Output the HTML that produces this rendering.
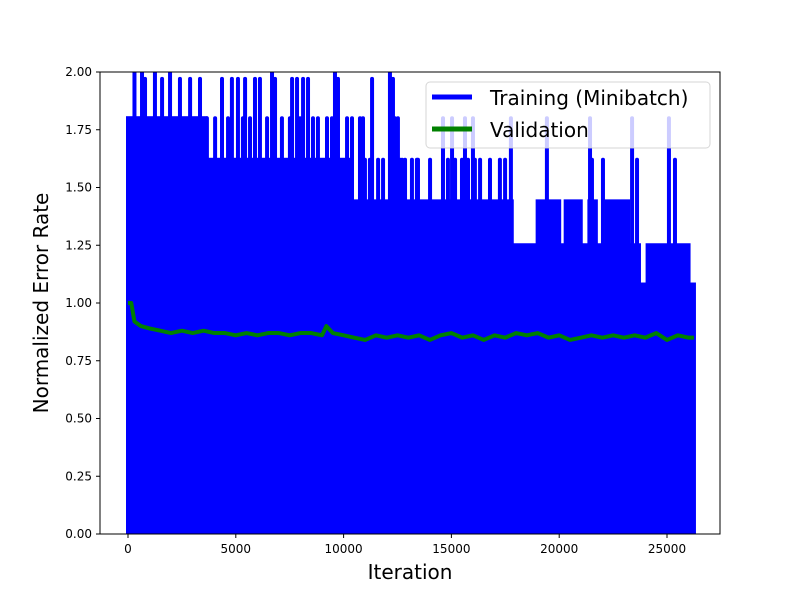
<!DOCTYPE html>
<html><head><meta charset="utf-8"><style>
body{margin:0;background:#fff;}
svg text{font-family:"DejaVu Sans","Liberation Sans",sans-serif;}
</style></head><body>
<svg id="chart" width="800" height="600" xmlns="http://www.w3.org/2000/svg">
<rect width="800" height="600" fill="#fff"/>
<defs><clipPath id="plotclip"><rect x="100" y="72" width="620" height="462"/></clipPath></defs>
<g id="train" clip-path="url(#plotclip)"></g>
<g id="valid" clip-path="url(#plotclip)"></g>
<g id="axes"></g>
<g>
<rect x="426" y="82" width="284" height="66" rx="4" fill="#fff" fill-opacity="0.8" stroke="#ccc" stroke-opacity="0.8"/>
<line x1="432" y1="97" x2="472" y2="97" stroke="#0000ff" stroke-width="5"/>
<text x="490" y="105" font-size="20" fill="#000">Training (Minibatch)</text>
<line x1="432" y1="129" x2="472" y2="129" stroke="#008000" stroke-width="5"/>
<text x="490" y="137" font-size="20" fill="#000">Validation</text>
</g>
<text x="410" y="579" font-size="20" text-anchor="middle">Iteration</text>
<text transform="translate(48,303) rotate(-90)" font-size="20" text-anchor="middle">Normalized Error Rate</text>
</svg>
<script>
// base level segments of training curve (start iteration, level)
const segStart=[0,3600,10300,17800,19000,20000,20300,21000,21400,21700,22200,23200,23700,24100,26000];
const segLevel=[1.8,1.62,1.44,1.25,1.44,1.25,1.44,1.25,1.44,1.25,1.44,1.25,1.08,1.25,1.08];
const lastIter=26250;
// spikes (iteration, peak value)
const spikeIter=[0,300,650,790,1250,1580,1950,2410,2880,3340,4360,4820,5100,5430,5890,6120,6680,6820,7610,7840,8120,8350,9600,9740,11320,12150,12290,
 3660,4040,4640,5330,5660,6450,7140,7510,7980,8580,8810,9230,9460,10160,10390,10760,10900,12380,12520,
 10990,11220,11600,11830,12620,12850,13170,13400,12710,13450,14010,14840,15170,15490,15770,16090,16330,16790,17250,17490,21520,22030,23610,25370,
 14610,15030,15630,16000,17760,19430,21430,23380,25090];
const spikeVal=[1.62,2.0,2.0,1.97,2.0,1.97,2.0,1.97,1.97,1.97,1.97,1.97,1.97,1.97,1.97,1.97,2.0,1.97,1.97,1.97,1.97,1.97,2.0,1.97,1.97,2.0,1.97,
 1.8,1.8,1.8,1.8,1.8,1.8,1.8,1.8,1.8,1.8,1.8,1.8,1.8,1.8,1.8,1.8,1.8,1.8,1.8,
 1.62,1.62,1.62,1.62,1.62,1.62,1.62,1.62,1.62,1.62,1.62,1.62,1.62,1.62,1.62,1.62,1.62,1.62,1.62,1.62,1.62,1.62,1.62,1.62,
 1.8,1.8,1.8,1.8,1.8,1.8,1.8,1.8,1.8];
// validation curve
const valIter=[0,150,300,600,1000,1500,2000,2500,3000,3500,4000,4500,5000,5500,6000,6500,7000,7500,8000,8500,9000,9200,9500,10000,10500,11000,11500,12000,12500,13000,13500,14000,14500,15000,15500,16000,16500,17000,17500,18000,18500,19000,19500,20000,20500,21000,21500,22000,22500,23000,23500,24000,24500,25000,25500,26000,26250];
const valVal=[1.0,1.0,0.92,0.9,0.89,0.88,0.87,0.88,0.87,0.88,0.87,0.87,0.86,0.87,0.86,0.87,0.87,0.86,0.87,0.87,0.86,0.9,0.87,0.86,0.85,0.84,0.86,0.85,0.86,0.85,0.86,0.84,0.86,0.87,0.85,0.86,0.84,0.86,0.85,0.87,0.86,0.87,0.85,0.86,0.84,0.85,0.86,0.85,0.86,0.85,0.86,0.85,0.87,0.84,0.86,0.85,0.85];
const yTicks=[0,0.25,0.5,0.75,1.0,1.25,1.5,1.75,2.0];
const xTicks=[0,5000,10000,15000,20000,25000];

const NS='http://www.w3.org/2000/svg';
const X=v=>128+v*0.02156;
const Y=v=>534-v*231;
function mk(tag,attrs,parent){const e=document.createElementNS(NS,tag);for(const k in attrs)e.setAttribute(k,attrs[k]);parent.appendChild(e);return e;}
const tg=document.getElementById('train');
for(let i=0;i<segStart.length;i++){
  const x0=X(segStart[i])-2, x1=X(i+1<segStart.length?segStart[i+1]:lastIter)+2;
  const r=mk('rect',{x:x0,y:Y(segLevel[i])-2,width:x1-x0,height:Y(0)-Y(segLevel[i])+4,fill:'#0000ff'},tg);
  
  
}
for(let i=0;i<spikeIter.length;i++){
  const l=mk('line',{x1:X(spikeIter[i]),x2:X(spikeIter[i]),y1:Y(1.0),y2:Y(spikeVal[i]),stroke:'#0000ff','stroke-width':4,'stroke-linecap':'round'},tg);
  
  
}
const vg=document.getElementById('valid');
const pl=mk('polyline',{points:valIter.map((v,i)=>X(v)+','+Y(valVal[i])).join(' '),fill:'none',stroke:'#008000','stroke-width':4,'stroke-linejoin':'round'},vg);


const ag=document.getElementById('axes');
const frame=mk('rect',{x:100,y:72,width:620,height:462,fill:'none',stroke:'#000','stroke-width':1},ag);


yTicks.forEach(t=>{
  mk('line',{x1:96,x2:100,y1:Y(t),y2:Y(t),stroke:'#000'},ag);
  const tx=mk('text',{x:92,y:Y(t)+4,'font-size':12,'text-anchor':'end'},ag);
  tx.textContent=t.toFixed(2);
  
  
});
xTicks.forEach(t=>{
  mk('line',{x1:X(t),x2:X(t),y1:534,y2:538,stroke:'#000'},ag);
  const tx=mk('text',{x:X(t),y:553,'font-size':12,'text-anchor':'middle'},ag);
  tx.textContent=String(t);
  
  
});
</script>
</body></html>
